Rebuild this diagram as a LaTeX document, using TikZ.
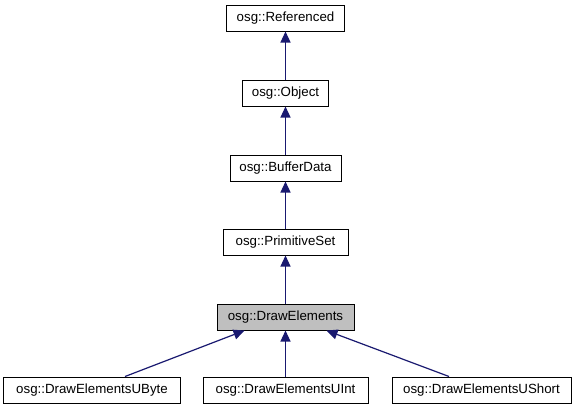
\documentclass[tikz,border=0pt]{standalone}
\usepackage{fontspec}
\setmainfont{Liberation Sans}
\usetikzlibrary{arrows.meta}
\definecolor{edgeblue}{RGB}{25,25,112}
\begin{document}
\begin{tikzpicture}[x=1bp,y=-1bp,
  cls/.style={draw=black,line width=1bp,minimum height=26bp,inner sep=0pt,
    font=\fontsize{13.3bp}{16bp}\selectfont},
  inh/.style={draw=edgeblue,line width=1.2bp,{Triangle[width=10bp,length=11bp]}-}]
\useasboundingbox[fill=white] (0,0) rectangle (575,411);
\node[cls,minimum width=118bp] (ref) at (285.5,18) {osg::Referenced};
\node[cls,minimum width=86bp] (obj) at (285.5,93) {osg::Object};
\node[cls,minimum width=111bp] (buf) at (285.5,168) {osg::BufferData};
\node[cls,minimum width=125bp] (prim) at (285.5,242) {osg::PrimitiveSet};
\node[cls,minimum width=137bp,fill=black!25] (de) at (285.5,317) {osg::DrawElements};
\node[cls,minimum width=176bp] (ub) at (92,390) {osg::DrawElementsUByte};
\node[cls,minimum width=165bp] (ui) at (285.5,390) {osg::DrawElementsUInt};
\node[cls,minimum width=179bp] (us) at (481.5,390) {osg::DrawElementsUShort};
\draw[inh] (ref.south) -- (obj.north);
\draw[inh] (obj.south) -- (buf.north);
\draw[inh] (buf.south) -- (prim.north);
\draw[inh] (prim.south) -- (de.north);
\draw[inh] ([xshift=-41bp]de.south) -- ([xshift=33bp]ub.north);
\draw[inh] (de.south) -- (ui.north);
\draw[inh] ([xshift=41bp]de.south) -- ([xshift=-32.5bp]us.north);
\end{tikzpicture}
\end{document}
